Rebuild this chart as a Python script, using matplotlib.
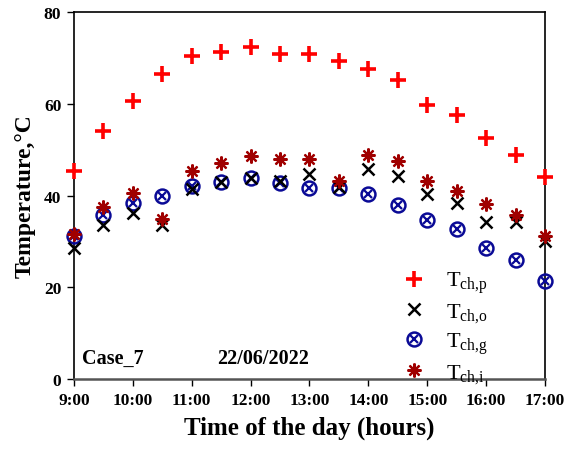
import matplotlib
matplotlib.use("Agg")
import matplotlib.pyplot as plt
from matplotlib.legend_handler import HandlerTuple

plt.rcParams['font.family'] = ['Liberation Serif', 'DejaVu Serif']
plt.rcParams['mathtext.fontset'] = 'custom'
plt.rcParams['mathtext.rm'] = 'Liberation Serif'
plt.rcParams['mathtext.it'] = 'Liberation Serif'

hours = [9, 9.5, 10, 10.5, 11, 11.5, 12, 12.5, 13, 13.5, 14, 14.5, 15, 15.5, 16, 16.5, 17]
t_ch_p = [45.3, 54.1, 60.7, 66.6, 70.5, 71.4, 72.3, 70.8, 70.8, 69.4, 67.7, 65.3, 59.7, 57.5, 52.5, 48.8, 44.0]
t_ch_o = [28.6, 33.6, 36.3, 33.6, 41.4, 42.9, 43.8, 43.2, 44.7, 41.8, 45.9, 44.3, 40.3, 38.3, 34.2, 34.2, 30.2]
t_ch_g = [31.2, 35.7, 38.4, 40.0, 42.1, 42.9, 43.8, 42.7, 41.6, 41.6, 40.3, 37.9, 34.7, 32.8, 28.6, 26.0, 21.3]
t_ch_i = [31.7, 37.6, 40.5, 35.0, 45.3, 47.2, 48.7, 48.0, 48.0, 43.2, 48.8, 47.5, 43.2, 41.0, 38.1, 35.7, 31.2]

x_ticks = [9, 10, 11, 12, 13, 14, 15, 16, 17]
x_labels = ['9:00', '10:00', '11:00', '12:00', '13:00', '14:00', '15:00', '16:00', '17:00']
y_ticks = [0, 20, 40, 60, 80]

fig = plt.figure(figsize=(5.68, 4.52), dpi=100)
ax = fig.add_axes([0.130, 0.159, 0.8295, 0.812])

hp, = ax.plot(hours, t_ch_p, ls='none', marker='+', ms=11, mew=2.6, color='#ff0000', clip_on=False, zorder=5)
ho, = ax.plot(hours, t_ch_o, ls='none', marker='x', ms=8.5, mew=1.8, color='black', clip_on=False, zorder=4)
hg1, = ax.plot(hours, t_ch_g, ls='none', marker='o', ms=10, mew=1.8, mfc='none', mec='#0a0a96', clip_on=False, zorder=3)
hg2, = ax.plot(hours, t_ch_g, ls='none', marker='x', ms=5.5, mew=1.6, color='#0a0a96', clip_on=False, zorder=3)
hi, = ax.plot(hours, t_ch_i, ls='none', marker=(8, 2, 0), ms=10, mew=1.6, color='#a00000', clip_on=False, zorder=6)

ax.set_xlim(9, 17)
ax.set_ylim(0, 80)
ax.set_xticks(x_ticks)
ax.set_xticklabels(x_labels)
ax.set_yticks(y_ticks)
ax.tick_params(direction='out', length=5, width=1, labelsize=12.5, pad=4)
for lab in ax.get_xticklabels() + ax.get_yticklabels():
    lab.set_fontweight('bold')
for s in ax.spines.values():
    s.set_linewidth(1.2)
    s.set_color('black')
ax.spines['bottom'].set_color('#555555')
ax.spines['bottom'].set_linewidth(1.8)

ax.set_xlabel('Time of the day (hours)', fontsize=18, fontweight='bold', labelpad=6)
ax.set_ylabel('Temperature,°C', fontsize=17, fontweight='bold', labelpad=6)

ax.text(0.018, 0.045, 'Case_7', transform=ax.transAxes, fontsize=14.5, fontweight='bold')
ax.text(0.305, 0.045, '22/06/2022', transform=ax.transAxes, fontsize=14.5, fontweight='bold')

leg = ax.legend([hp, ho, (hg1, hg2), hi],
                [r'T$_{\mathrm{ch{,}p}}$', r'T$_{\mathrm{ch{,}o}}$', r'T$_{\mathrm{ch{,}g}}$', r'T$_{\mathrm{ch{,}i}}$'],
                handler_map={tuple: HandlerTuple(ndivide=1)},
                loc='lower right', bbox_to_anchor=(0.92, -0.07), frameon=False, fontsize=16,
                handlelength=1.2, handletextpad=0.8, labelspacing=0.27)

fig.savefig('out.png', dpi=100)
